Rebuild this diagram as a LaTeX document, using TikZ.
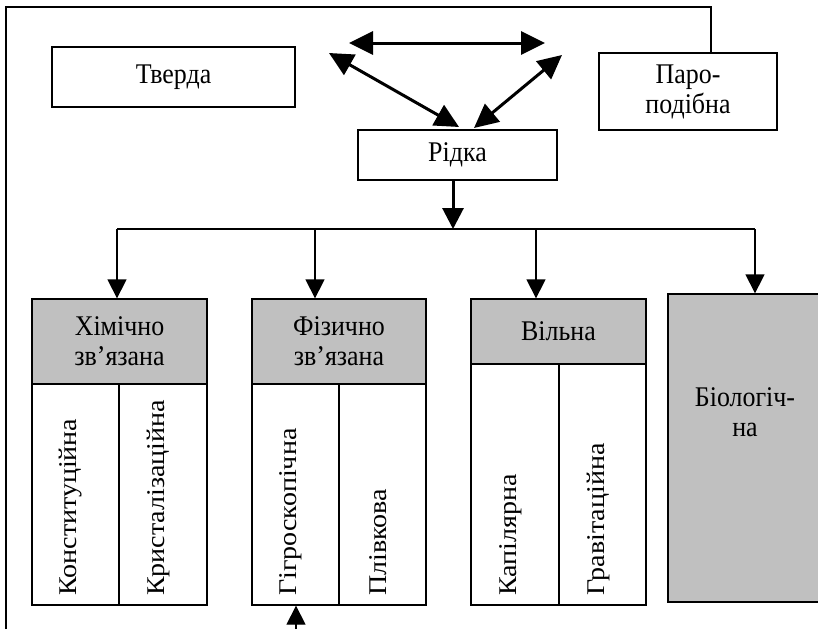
\documentclass[tikz,border=0pt]{standalone}
\usepackage{fontspec}
\setmainfont{Liberation Serif}
\newfontfamily\hfont[FakeStretch=0.91]{Liberation Serif}
\newfontfamily\vfont[FakeStretch=1.1]{Liberation Serif}
\usetikzlibrary{arrows.meta}
\definecolor{boxgrey}{HTML}{C0C0C0}
\begin{document}
\begin{tikzpicture}[x=1pt,y=-1pt,
  every node/.style={font=\hfont\fontsize{28.5}{30}\selectfont, inner sep=0pt, align=center},
  box/.style={draw, line width=1.3pt, fill=white},
  greybox/.style={draw, line width=1.3pt, fill=boxgrey},
  vtext/.style={rotate=90, anchor=west, font=\vfont\fontsize{25.5}{28}\selectfont},
  thin/.style={line width=1.3pt},
  thick3/.style={line width=3pt},
  bigtip/.style={{Triangle[length=24pt,width=23pt]}-{Triangle[length=24pt,width=23pt]}},
  downtip/.style={-{Triangle[length=21pt,width=21pt]}},
  smalltip/.style={-{Triangle[length=19pt,width=19pt]}}
]
\useasboundingbox (0,0) rectangle (818,629);

% top boxes
\node[box, minimum width=243pt, minimum height=60pt] (tv) at (173.5,77) {Тверда};
\node[box, minimum width=178pt, minimum height=77pt] (par) at (688,91.5) {Паро-\\подібна};
\node[box, minimum width=199pt, minimum height=50pt] (rid) at (457.5,155) {Рідка};

% headers
\node[greybox, minimum width=175pt, minimum height=85pt] (h1) at (119.5,341.5) {Хімічно\\зв’язана};
\node[greybox, minimum width=174pt, minimum height=85pt] (h2) at (339,341.5) {Фізично\\зв’язана};
\node[greybox, minimum width=175pt, minimum height=65pt] (h3) at (558.5,331.5) {Вільна};
\node[greybox, minimum width=156pt, minimum height=308pt] (bio) at (746,448) {};
\node (biot) at (745,412) {Біологіч-\\на};

% columns
\node[box, minimum width=87pt, minimum height=221pt] (c1a) at (75.5,494.5) {};
\node[box, minimum width=88pt, minimum height=221pt] (c1b) at (163,494.5) {};
\node[box, minimum width=87pt, minimum height=221pt] (c2a) at (295.5,494.5) {};
\node[box, minimum width=87pt, minimum height=221pt] (c2b) at (382.5,494.5) {};
\node[box, minimum width=88pt, minimum height=241pt] (c3a) at (515,484.5) {};
\node[box, minimum width=87pt, minimum height=241pt] (c3b) at (602.5,484.5) {};

\node[vtext] (t1a) at (71,596) {Конституційна};
\node[vtext] (t1b) at (158.5,596) {Кристалізаційна};
\node[vtext] (t2a) at (291,596) {Гігроскопічна};
\node[vtext] (t2b) at (378,596) {Плівкова};
\node[vtext] (t3a) at (510.5,596) {Капілярна};
\node[vtext] (t3b) at (598,596) {Гравітаційна};

% frame line
\coordinate (fb) at (6,629);
\coordinate (fx) at (711,7);
\draw[thin] (fb) |- (fx) -- (fx |- par.north);

% upper double arrows
\coordinate (ha) at (349,43);
\coordinate (hb) at (545,43);
\coordinate (la) at (329,53);
\coordinate (lb) at (459,127);
\coordinate (ra) at (562,55);
\coordinate (rb) at (474,128);
\draw[thick3, bigtip] (ha) -- (hb);
\draw[thick3, bigtip] (la) -- (lb);
\draw[thick3, bigtip] (ra) -- (rb);

% Ridka down
\coordinate (bus) at (453,229);
\draw[thick3, downtip] (bus |- rid.south) -- (bus);

% bus
\coordinate (b1) at (117,229);
\coordinate (b2) at (315,229);
\coordinate (b3) at (536,229);
\coordinate (b4) at (755,229);
\draw[thin] (b1) -- (b4);
\draw[thin, smalltip] (b1) -- (b1 |- h1.north);
\draw[thin, smalltip] (b2) -- (b2 |- h2.north);
\draw[thin, smalltip] (b3) -- (b3 |- h3.north);
\draw[thin, smalltip] (b4) -- (b4 |- bio.north);

% bottom up arrow
\coordinate (up) at (296,629);
\draw[thin, smalltip] (up) -- (up |- c2a.south);
\end{tikzpicture}
\end{document}
